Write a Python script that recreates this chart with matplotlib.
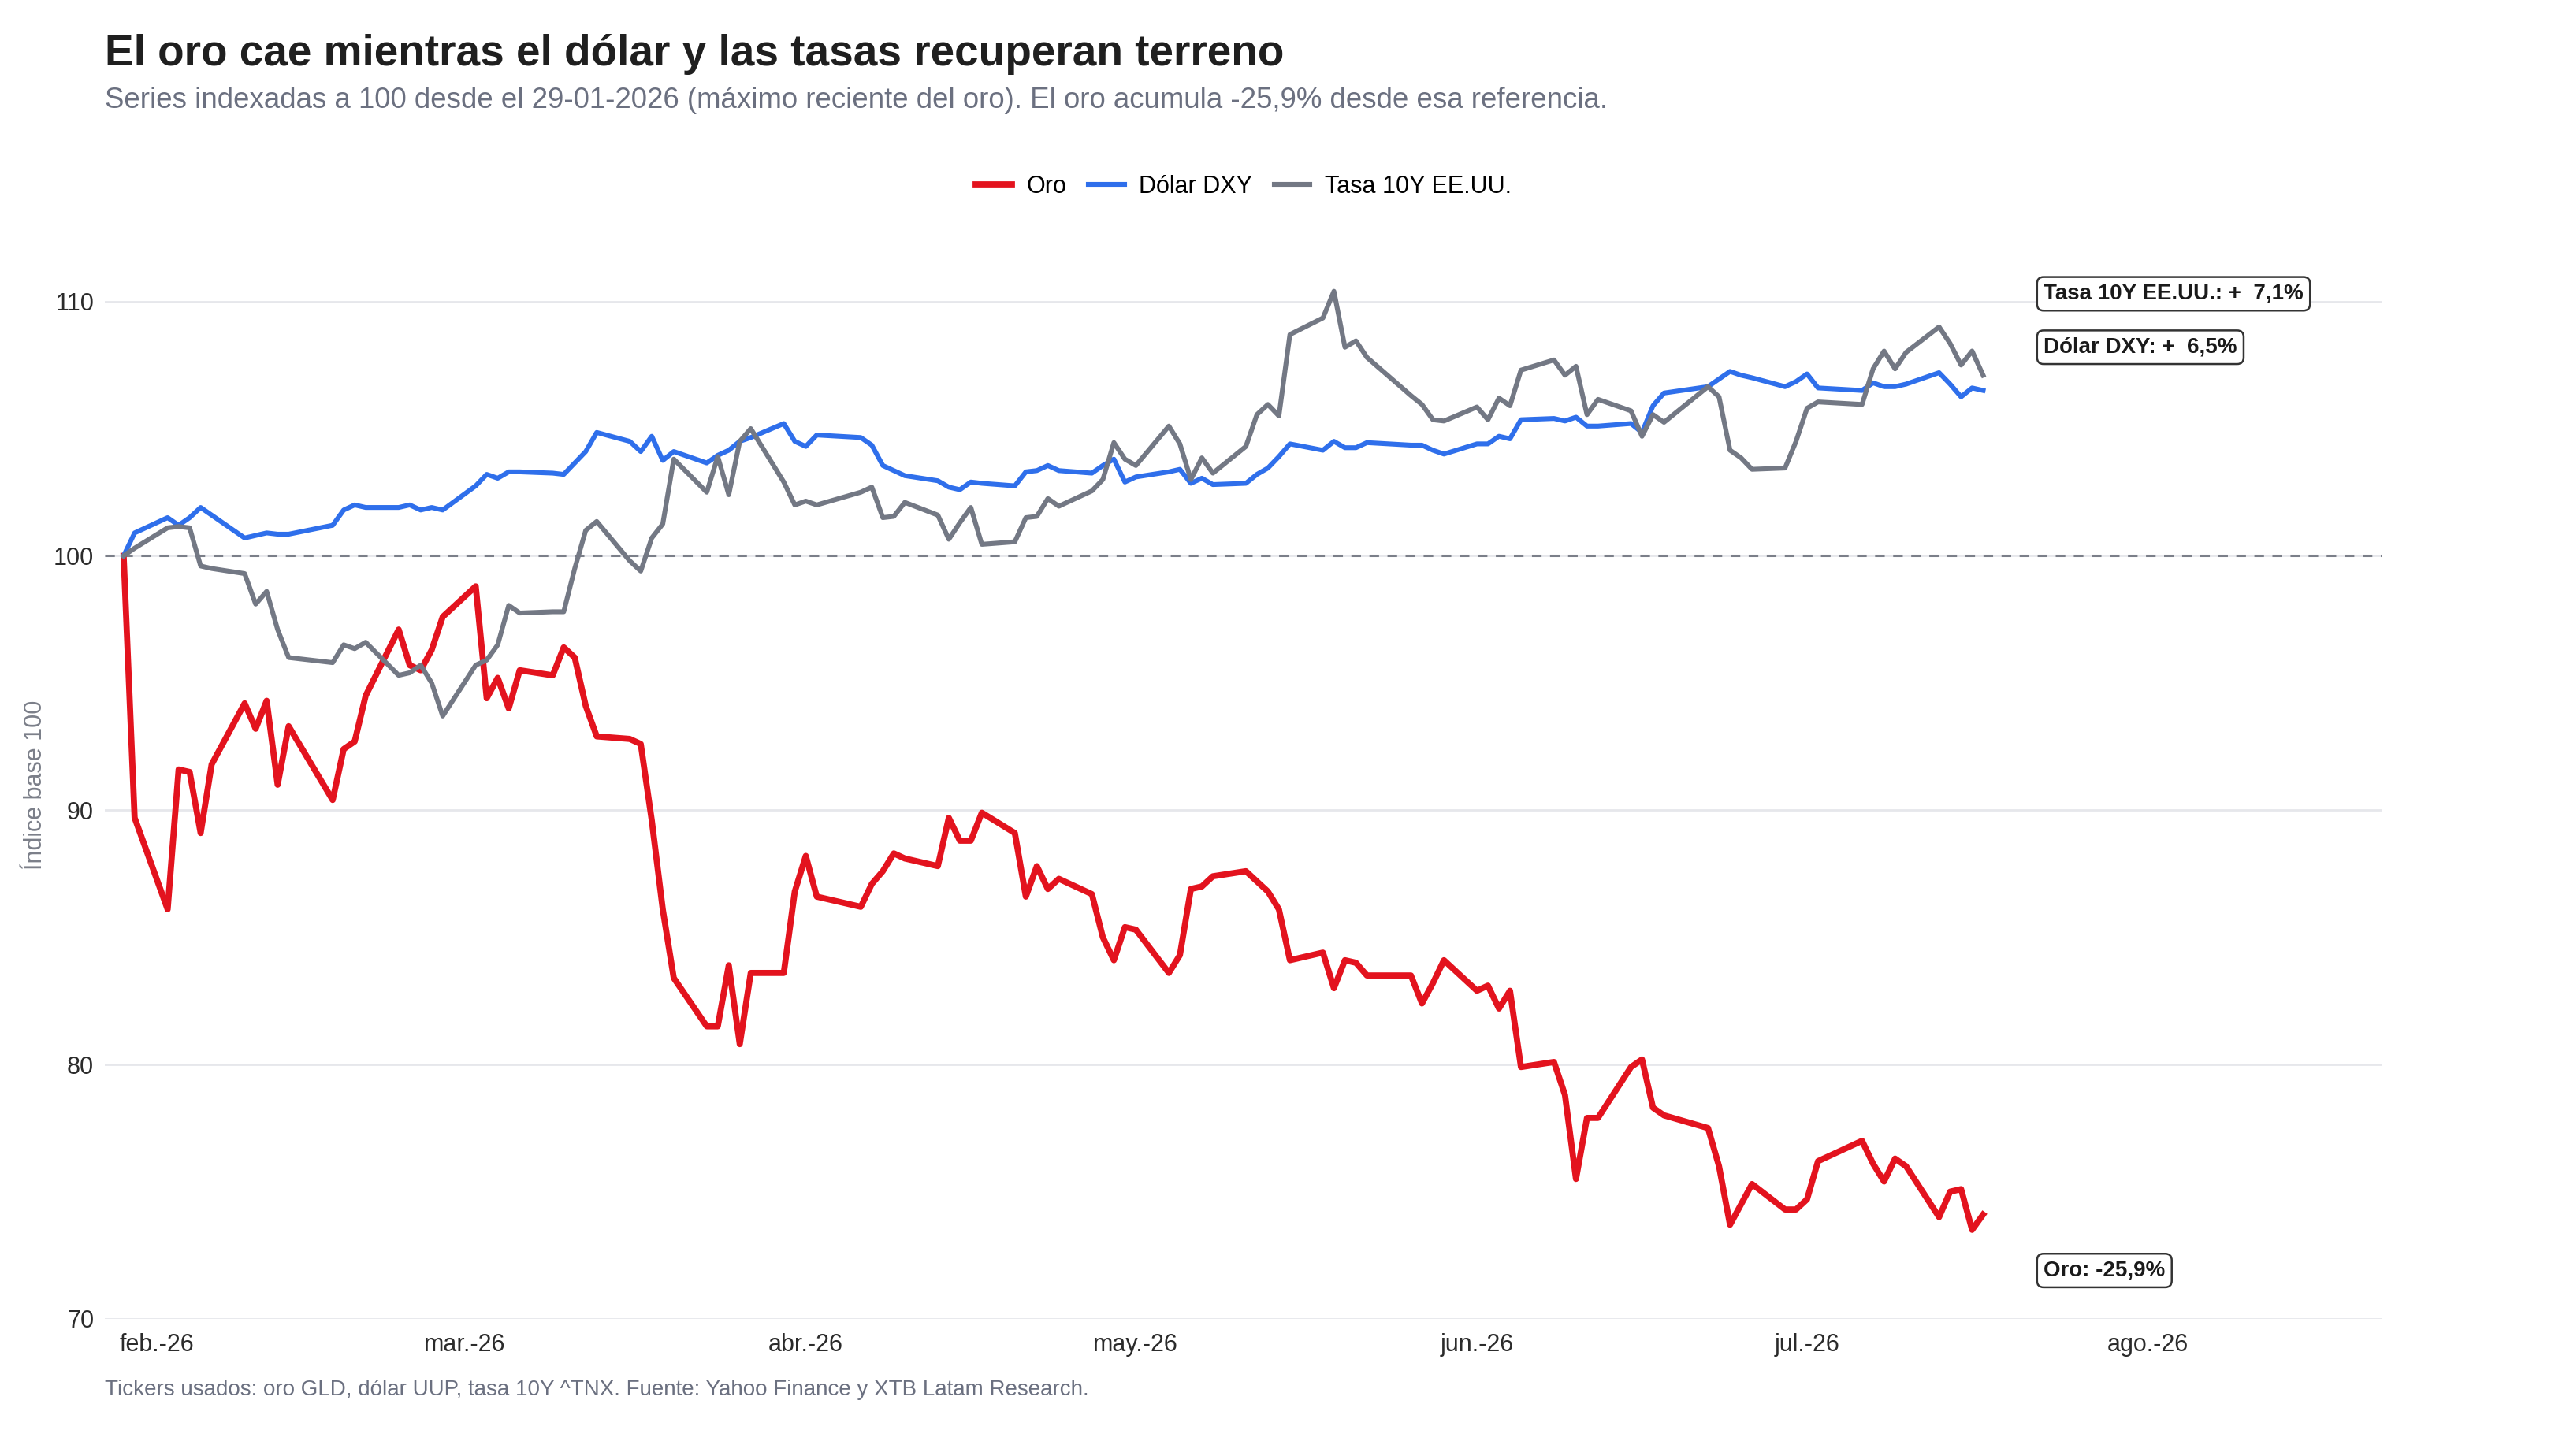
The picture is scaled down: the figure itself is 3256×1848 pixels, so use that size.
import numpy as np
import pandas as pd
import matplotlib
matplotlib.use("Agg")
import matplotlib.pyplot as plt
import matplotlib.dates as mdates

plt.rcParams['font.family'] = ['Liberation Sans', 'DejaVu Sans']

# trading days (US market holidays removed)
holidays = ["2026-02-16", "2026-04-03", "2026-05-25", "2026-06-19", "2026-07-03"]
dates = pd.bdate_range("2026-01-29", "2026-07-17")
dates = dates[~dates.isin(pd.to_datetime(holidays))]

oro = [100.0, 89.7,
       86.1, 91.6, 91.5, 89.1, 91.8,
       94.2, 93.2, 94.3, 91.0, 93.3,
       90.4, 92.4, 92.7, 94.5,
       97.1, 95.7, 95.5, 96.3, 97.6,
       98.8, 94.4, 95.2, 94.0, 95.5,
       95.3, 96.4, 96.0, 94.1, 92.9,
       92.8, 92.6, 89.6, 86.1, 83.4,
       81.5, 81.5, 83.9, 80.8, 83.6,
       83.6, 86.8, 88.2, 86.6,
       86.2, 87.1, 87.6, 88.3, 88.1,
       87.8, 89.7, 88.8, 88.8, 89.9,
       89.1, 86.6, 87.8, 86.9, 87.3,
       86.7, 85.0, 84.1, 85.4, 85.3,
       83.6, 84.3, 86.9, 87.0, 87.4,
       87.6, 87.2, 86.8, 86.1, 84.1,
       84.4, 83.0, 84.1, 84.0, 83.5,
       83.5, 82.4, 83.2, 84.1,
       82.9, 83.1, 82.2, 82.9, 79.9,
       80.1, 78.8, 75.5, 77.9, 77.9,
       79.9, 80.2, 78.3, 78.0,
       77.5, 76.0, 73.7, 74.5, 75.3,
       74.3, 74.3, 74.7, 76.2,
       77.0, 76.1, 75.4, 76.3, 76.0,
       74.0, 75.0, 75.1, 73.5, 74.1]

dolar = [100.0, 100.9,
         101.5, 101.2, 101.5, 101.9, 101.6,
         100.7, 100.8, 100.9, 100.85, 100.85,
         101.2, 101.8, 102.0, 101.9,
         101.9, 102.0, 101.8, 101.9, 101.8,
         102.75, 103.2, 103.05, 103.3, 103.3,
         103.25, 103.2, 103.65, 104.1, 104.85,
         104.5, 104.1, 104.7, 103.75, 104.1,
         103.65, 103.95, 104.15, 104.5, 104.65,
         105.2, 104.5, 104.3, 104.75,
         104.65, 104.35, 103.55, 103.35, 103.15,
         102.95, 102.7, 102.6, 102.9, 102.85,
         102.75, 103.3, 103.35, 103.55, 103.35,
         103.25, 103.55, 103.8, 102.9, 103.1,
         103.3, 103.4, 102.85, 103.05, 102.8,
         102.85, 103.2, 103.45, 103.9, 104.4,
         104.15, 104.5, 104.25, 104.25, 104.45,
         104.35, 104.35, 104.15, 104.0,
         104.4, 104.4, 104.7, 104.6, 105.35,
         105.4, 105.3, 105.45, 105.1, 105.1,
         105.2, 104.85, 105.9, 106.4,
         106.65, 106.95, 107.25, 107.1, 107.0,
         106.65, 106.85, 107.15, 106.6,
         106.5, 106.8, 106.65, 106.65, 106.75,
         107.2, 106.75, 106.25, 106.6, 106.5]

tasa = [100.0, 100.3,
        101.1, 101.15, 101.1, 99.6, 99.5,
        99.3, 98.1, 98.6, 97.1, 96.0,
        95.8, 96.5, 96.35, 96.6,
        95.3, 95.4, 95.7, 95.0, 93.7,
        95.7, 95.9, 96.5, 98.05, 97.75,
        97.8, 97.8, 99.5, 101.0, 101.35,
        99.8, 99.4, 100.7, 101.25, 103.8,
        102.5, 103.9, 102.4, 104.5, 105.0,
        102.9, 102.0, 102.15, 102.0,
        102.5, 102.7, 101.5, 101.55, 102.1,
        101.6, 100.65, 101.3, 101.9, 100.45,
        100.55, 101.5, 101.55, 102.25, 101.95,
        102.55, 103.0, 104.45, 103.8, 103.55,
        105.1, 104.4, 103.0, 103.85, 103.25,
        104.3, 105.55, 105.95, 105.5, 108.7,
        109.35, 110.4, 108.2, 108.45, 107.8,
        106.3, 105.95, 105.35, 105.3,
        105.85, 105.35, 106.2, 105.9, 107.3,
        107.7, 107.1, 107.45, 105.55, 106.15,
        105.7, 104.7, 105.55, 105.25,
        106.65, 106.25, 104.15, 103.85, 103.4,
        103.45, 104.5, 105.8, 106.05,
        105.95, 107.35, 108.05, 107.35, 108.0,
        109.0, 108.35, 107.5, 108.05, 107.1]

series_names = ["Oro", "Dólar DXY", "Tasa 10Y EE.UU."]
colors = ["#E3131E", "#2F6FEB", "#737884"]
widths = [2.8, 2.2, 2.2]

end_labels = ["Oro: -25,9%", "Dólar DXY: +  6,5%", "Tasa 10Y EE.UU.: +  7,1%"]
end_label_y = [71.9, 108.2, 110.3]

month_labels = ["feb.-26", "mar.-26", "abr.-26", "may.-26", "jun.-26", "jul.-26", "ago.-26"]

fig = plt.figure(figsize=(16.28, 9.24), dpi=200)
ax = fig.add_axes([0.04085, 0.0942, 0.8876, 0.7337])

for vals, name, c, lw in zip([oro, dolar, tasa], series_names, colors, widths):
    ax.plot(dates, vals, color=c, lw=lw, label=name, solid_joinstyle='round')

ax.axhline(100, color="#7b7f89", lw=1.1, ls=(0, (4, 3.5)), zorder=1)

lbl_x = dates[-1] + pd.Timedelta(days=5.5)
for txt, y in zip(end_labels, end_label_y):
    ax.text(lbl_x, y, txt, ha="left", va="center", fontsize=10, fontweight="bold",
            color="#1a1a1a",
            bbox=dict(boxstyle="round,pad=0.3", fc="white", ec="#333333", lw=0.9))

ax.set_xlim(pd.Timestamp("2026-01-27 07:00"), pd.Timestamp("2026-08-22 07:00"))
ax.set_ylim(70, 112)
ax.set_yticks([70, 80, 90, 100, 110])
ax.xaxis.set_major_locator(mdates.MonthLocator())
ax.set_xticks(ax.get_xticks())
ax.set_xticklabels(month_labels)

ax.grid(axis="y", color="#e6e7eb", lw=1.0)
ax.set_axisbelow(True)
for s in ax.spines.values():
    s.set_visible(False)
ax.tick_params(axis="both", length=0, labelsize=11, labelcolor="#2b2b2b")
ax.tick_params(axis="x", pad=6.5)
ax.tick_params(axis="y", pad=5)
ax.set_ylabel("Índice base 100", fontsize=11, color="#7b7f89", labelpad=3)

ax.legend(loc="center", bbox_to_anchor=(0.5, 1.060), ncol=3, frameon=False,
          fontsize=11, handlelength=1.5, handletextpad=0.6, columnspacing=0.9)

fig.text(0.0408, 0.9551, "El oro cae mientras el dólar y las tasas recuperan terreno",
         fontsize=19.8, fontweight="bold", color="#1f1f1f", va="baseline")
fig.text(0.0408, 0.9259,
         "Series indexadas a 100 desde el 29-01-2026 (máximo reciente del oro). "
         "El oro acumula -25,9% desde esa referencia.",
         fontsize=13.2, color="#6b7080", va="baseline")
fig.text(0.0408, 0.0415,
         "Tickers usados: oro GLD, dólar UUP, tasa 10Y ^TNX. Fuente: Yahoo Finance y XTB Latam Research.",
         fontsize=10, color="#6b7080", va="baseline")

fig.savefig("out.png", dpi=200)
